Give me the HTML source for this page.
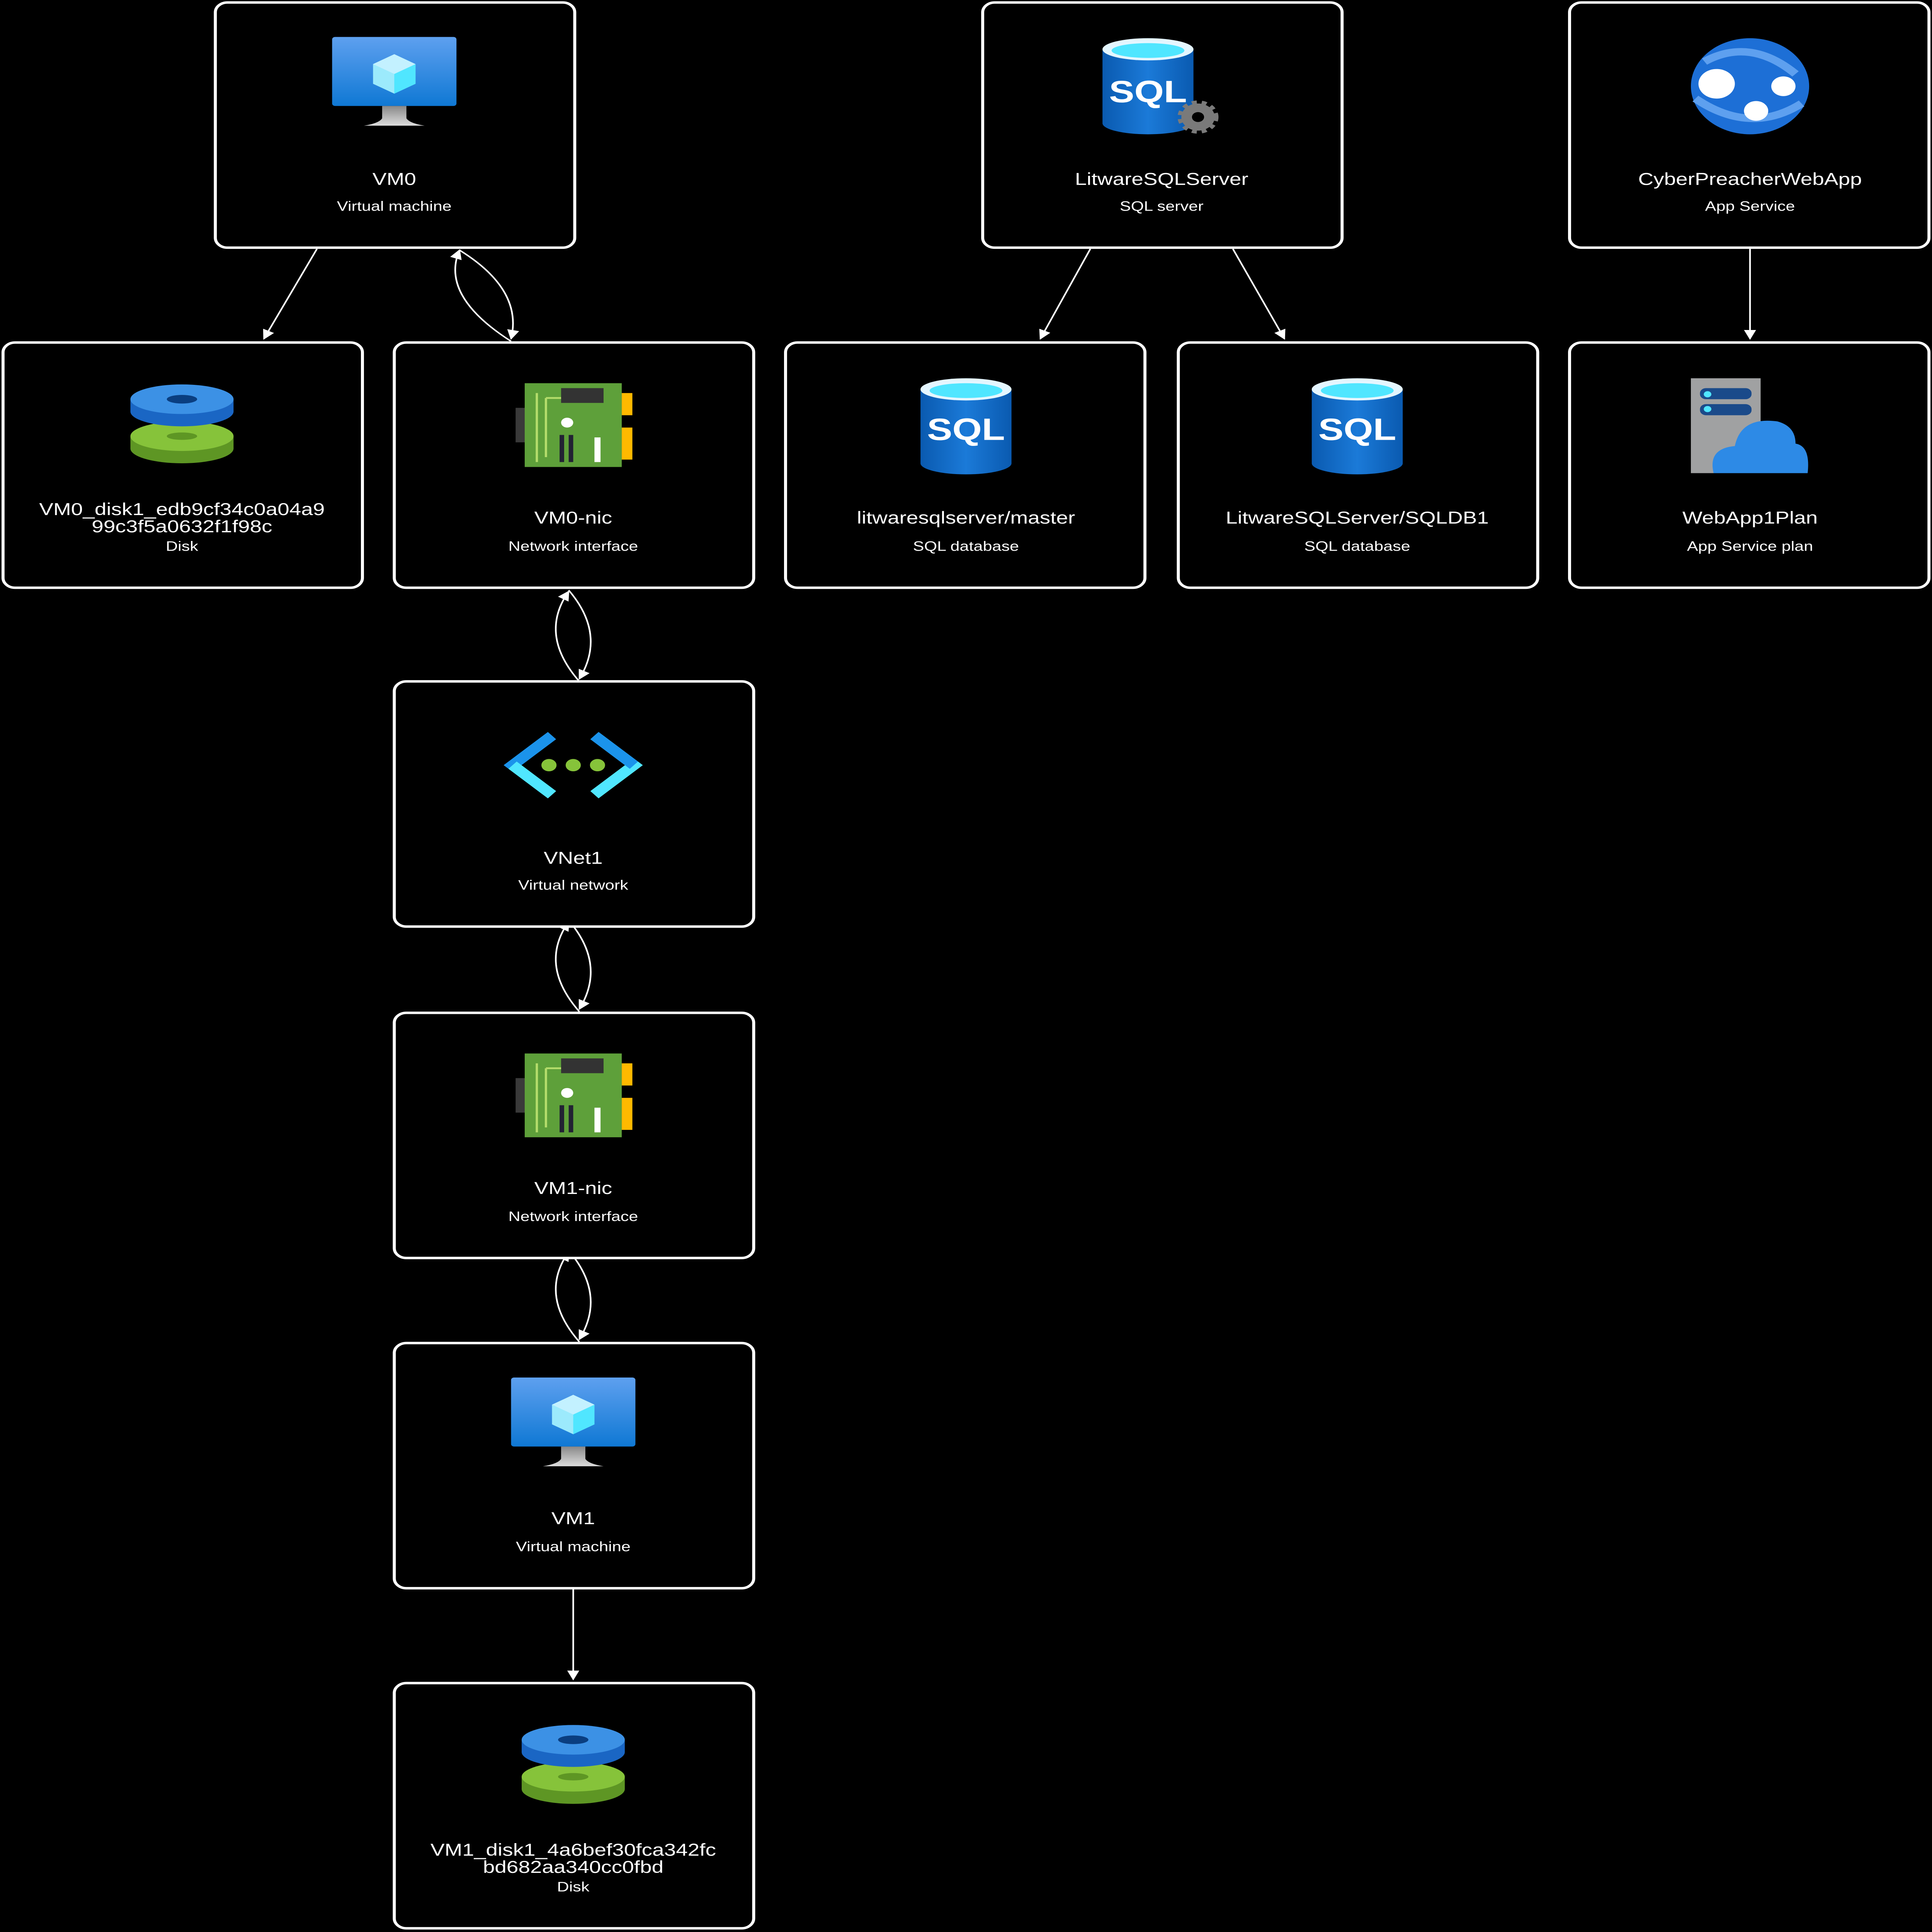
<!DOCTYPE html>
<html><head><meta charset="utf-8"><style>
html,body{margin:0;padding:0;background:#000;width:100%;height:100%;overflow:hidden;}
svg{display:block;width:100vw;height:100vh;}
text{font-family:"Liberation Sans",Arial,sans-serif;fill:#fff;text-anchor:middle;}
.t{font-size:14px;}
.s{font-size:11px;}
.b{fill:#000;stroke:#fff;stroke-width:2;}
.c{fill:none;stroke:#fff;stroke-width:1.1;}
</style></head><body>
<svg viewBox="0 0 1274 1568" preserveAspectRatio="none" xmlns="http://www.w3.org/2000/svg">
<defs>
<marker id="a" viewBox="0 0 10 10" refX="9" refY="5" markerWidth="8" markerHeight="8" markerUnits="userSpaceOnUse" orient="auto"><path d="M0,0 L10,5 L0,10 z" fill="#fff"/></marker>
<linearGradient id="scr" x1="0" y1="0" x2="0" y2="1"><stop offset="0" stop-color="#5ea0ef"/><stop offset="1" stop-color="#0f78d4"/></linearGradient>
<linearGradient id="stand" x1="0" y1="0" x2="0" y2="1"><stop offset="0" stop-color="#888"/><stop offset="1" stop-color="#ddd"/></linearGradient>
<linearGradient id="sql" x1="0" y1="0" x2="1" y2="0"><stop offset="0" stop-color="#0a5ab0"/><stop offset="0.5" stop-color="#1b7ad8"/><stop offset="1" stop-color="#0a5ab0"/></linearGradient>
<g id="vm">
<rect x="-41" y="-31" width="82" height="56" rx="2" fill="url(#scr)"/>
<path d="M-8,25 L8,25 L8,35 Q10,39 20,41 L-20,41 Q-10,39 -8,35 z" fill="url(#stand)"/>
<path d="M0,-17 L14,-9 L14,7 L0,15 L-14,7 L-14,-9 z" fill="#9ceafc"/>
<path d="M0,-1 L14,-9 L14,7 L0,15 z" fill="#50e6ff"/>
<path d="M0,-17 L14,-9 L0,-1 L-14,-9 z" fill="#c3f1ff"/>
</g>
<g id="disk">
<ellipse cx="0" cy="18" rx="34" ry="12" fill="#5e9624"/>
<rect x="-34" y="8" width="68" height="10" fill="#5e9624"/>
<ellipse cx="0" cy="8" rx="34" ry="12" fill="#86c33a"/>
<ellipse cx="0" cy="8" rx="10" ry="3" fill="#5e9624"/>
<ellipse cx="0" cy="-12" rx="34" ry="12" fill="#1a66c4"/>
<rect x="-34" y="-22" width="68" height="10" fill="#1a66c4"/>
<ellipse cx="0" cy="-22" rx="34" ry="12" fill="#3c91e5"/>
<ellipse cx="0" cy="-22" rx="10" ry="3.5" fill="#0a3e80"/>
</g>
<g id="nic">
<rect x="-38" y="-14" width="8" height="28" fill="#3a3a3a"/>
<rect x="-32" y="-34" width="64" height="68" fill="#5ea03a"/>
<rect x="32" y="-26" width="7" height="18" fill="#ffb900"/>
<rect x="32" y="2" width="7" height="26" fill="#ffb900"/>
<rect x="-8" y="-30" width="28" height="12" fill="#333"/>
<path d="M-24,-26 V30 M-18,-22 V26 M-18,-22 H-8" stroke="#b4dc6b" stroke-width="1.5" fill="none"/>
<circle cx="-4" cy="-2" r="4" fill="#fff"/>
<rect x="-9" y="8" width="3" height="22" fill="#223"/>
<rect x="-3" y="8" width="3" height="22" fill="#223"/>
<rect x="14" y="10" width="4" height="20" fill="#fff"/>
</g>
<g id="sqldb">
<path d="M-30,-30 V30 A30,9 0 0 0 30,30 V-30 z" fill="url(#sql)"/>
<ellipse cx="0" cy="-30" rx="30" ry="9" fill="#e4f6ff"/>
<ellipse cx="0" cy="-29" rx="24" ry="6" fill="#50e6ff"/>
<text x="0" y="11" style="font-size:25px;font-weight:bold;">SQL</text>
</g>
</defs>

<line class="c" x1="209" y1="202" x2="174" y2="275" marker-end="url(#a)"/>
<path class="c" d="M337,277 Q290,240 303,203" marker-end="url(#a)"/>
<path class="c" d="M303,203 Q345,235 337,275" marker-end="url(#a)"/>
<line class="c" x1="719" y1="202" x2="686" y2="275" marker-end="url(#a)"/>
<line class="c" x1="813" y1="202" x2="847" y2="275" marker-end="url(#a)"/>
<line class="c" x1="1154" y1="202" x2="1154" y2="275" marker-end="url(#a)"/>
<line class="c" x1="378" y1="1290" x2="378" y2="1363" marker-end="url(#a)"/>
<g id="pair">
<path class="c" d="M382,553 Q355,515 375,480" marker-end="url(#a)"/>
<path class="c" d="M375,479 Q400,515 382,551" marker-end="url(#a)"/>
</g>
<use href="#pair" y="268"/>
<use href="#pair" y="536"/>

<rect class="b" x="142" y="2" width="237" height="199" rx="8"/>
<rect class="b" x="648" y="2" width="237" height="199" rx="8"/>
<rect class="b" x="1035" y="2" width="237" height="199" rx="8"/>
<rect class="b" x="2" y="278" width="237" height="199" rx="8"/>
<rect class="b" x="260" y="278" width="237" height="199" rx="8"/>
<rect class="b" x="518" y="278" width="237" height="199" rx="8"/>
<rect class="b" x="777" y="278" width="237" height="199" rx="8"/>
<rect class="b" x="1035" y="278" width="237" height="199" rx="8"/>
<rect class="b" x="260" y="553" width="237" height="199" rx="8"/>
<rect class="b" x="260" y="822" width="237" height="199" rx="8"/>
<rect class="b" x="260" y="1090" width="237" height="199" rx="8"/>
<rect class="b" x="260" y="1366" width="237" height="199" rx="8"/>

<use href="#vm" x="260" y="61"/>
<use href="#vm" x="378" y="1149"/>
<use href="#disk" x="120" y="346"/>
<use href="#disk" x="378" y="1434"/>
<use href="#nic" x="378" y="345"/>
<use href="#nic" x="378" y="889"/>
<use href="#sqldb" x="637" y="346"/>
<use href="#sqldb" x="895" y="346"/>
<g transform="translate(757,70)">
<path d="M-30,-30 V30 A30,9 0 0 0 30,30 V-30 z" fill="url(#sql)"/>
<ellipse cx="0" cy="-30" rx="30" ry="9" fill="#e4f6ff"/>
<ellipse cx="0" cy="-29" rx="24" ry="6" fill="#50e6ff"/>
<text x="0" y="13" style="font-size:25px;font-weight:bold;">SQL</text>
<circle cx="33" cy="25" r="11" fill="#7a7a7a" stroke="#7a7a7a" stroke-width="5" stroke-dasharray="3 3"/>
<circle cx="33" cy="25" r="4" fill="#000"/>
</g>
<g transform="translate(1154,70)">
<circle r="39" fill="#1d6fd6"/>
<path d="M-30,-20 Q0,-40 30,-10 M-36,10 Q0,40 34,14" stroke="#5ea0ef" stroke-width="6" fill="none"/>
<circle cx="-22" cy="-2" r="12" fill="#fff"/>
<circle cx="22" cy="0" r="8" fill="#fff"/>
<circle cx="4" cy="20" r="8" fill="#fff"/>
</g>
<g transform="translate(1154,346)">
<rect x="-39" y="-39" width="46" height="77" fill="#a0a1a2"/>
<rect x="-33" y="-31" width="34" height="9" rx="4" fill="#1a4a8a"/>
<rect x="-33" y="-18" width="34" height="9" rx="4" fill="#1a4a8a"/>
<circle cx="-28" cy="-26" r="2.5" fill="#50e6ff"/>
<circle cx="-28" cy="-14" r="2.5" fill="#50e6ff"/>
<path d="M-24,38 Q-28,18 -10,16 Q-6,-8 18,-4 Q30,0 30,14 Q40,16 38,38 z" fill="#2d8ae6"/>
</g>
<g transform="translate(378,621)">
<path d="M-14,-24 L-40,0 L-14,24" stroke="#1b93eb" stroke-width="8" fill="none"/>
<path d="M14,-24 L40,0 L14,24" stroke="#50e6ff" stroke-width="8" fill="none"/>
<path d="M-40,0 L-14,24" stroke="#50e6ff" stroke-width="8"/>
<path d="M40,0 L14,-24" stroke="#1b93eb" stroke-width="8"/>
<circle cx="-16" cy="0" r="5" fill="#86c33a"/>
<circle cx="0" cy="0" r="5" fill="#86c33a"/>
<circle cx="16" cy="0" r="5" fill="#86c33a"/>
</g>

<text class="t" x="260" y="150">VM0</text><text class="s" x="260" y="171">Virtual machine</text>
<text class="t" x="766" y="150">LitwareSQLServer</text><text class="s" x="766" y="171">SQL server</text>
<text class="t" x="1154" y="150">CyberPreacherWebApp</text><text class="s" x="1154" y="171">App Service</text>
<text class="t" x="120" y="418">VM0_disk1_edb9cf34c0a04a9</text><text class="t" x="120" y="432">99c3f5a0632f1f98c</text><text class="s" x="120" y="447">Disk</text>
<text class="t" x="378" y="425">VM0-nic</text><text class="s" x="378" y="447">Network interface</text>
<text class="t" x="637" y="425">litwaresqlserver/master</text><text class="s" x="637" y="447">SQL database</text>
<text class="t" x="895" y="425">LitwareSQLServer/SQLDB1</text><text class="s" x="895" y="447">SQL database</text>
<text class="t" x="1154" y="425">WebApp1Plan</text><text class="s" x="1154" y="447">App Service plan</text>
<text class="t" x="378" y="701">VNet1</text><text class="s" x="378" y="722">Virtual network</text>
<text class="t" x="378" y="969">VM1-nic</text><text class="s" x="378" y="991">Network interface</text>
<text class="t" x="378" y="1237">VM1</text><text class="s" x="378" y="1259">Virtual machine</text>
<text class="t" x="378" y="1506">VM1_disk1_4a6bef30fca342fc</text><text class="t" x="378" y="1520">bd682aa340cc0fbd</text><text class="s" x="378" y="1535">Disk</text>
</svg>
</body></html>
